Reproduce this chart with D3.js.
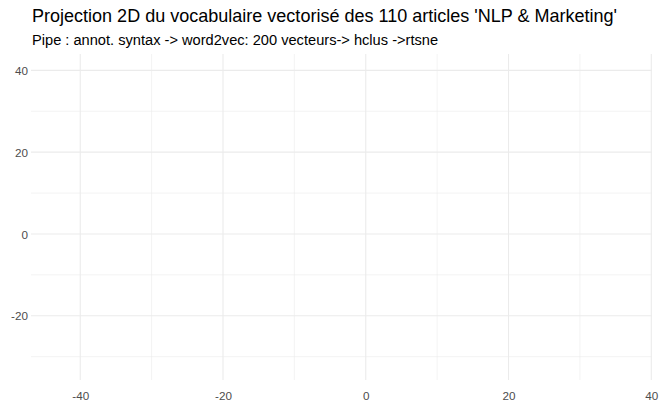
<!DOCTYPE html>
<html><head><meta charset="utf-8">
<script src="https://cdn.jsdelivr.net/npm/d3@7"></script>
<style>body{margin:0;background:#fff}svg{display:block;font-family:"Liberation Sans",Arial,sans-serif}</style>
</head><body><svg id="c" width="659" height="407"></svg>
<script>
const title = "Projection 2D du vocabulaire vectorisé des 110 articles 'NLP & Marketing'";
const subtitle = "Pipe : annot. syntax -> word2vec: 200 vecteurs-> hclus ->rtsne";
const xDomain = [-46.9, 40.1];
const yDomain = [-35.7, 44.0];
const xMajor = [-40, -20, 0, 20, 40];
const xMinor = [-30, -10, 10, 30];
const yMajor = [-20, 0, 20, 40];
const yMinor = [-30, -10, 10, 30];
const points = [];

const svg = d3.select("#c");
const m = {l:31, r:652, t:54, b:380};
const x = d3.scaleLinear().domain(xDomain).range([m.l, m.r]);
const y = d3.scaleLinear().domain(yDomain).range([m.b, m.t]);
const grid = svg.append("g");
grid.selectAll(".xm").data(xMinor).join("line").attr("x1",d=>x(d)).attr("x2",d=>x(d)).attr("y1",m.t).attr("y2",m.b).attr("stroke","#ebebeb").attr("stroke-width",0.6);
grid.selectAll(".ym").data(yMinor).join("line").attr("y1",d=>y(d)).attr("y2",d=>y(d)).attr("x1",m.l).attr("x2",m.r).attr("stroke","#ebebeb").attr("stroke-width",0.6);
grid.selectAll(".xM").data(xMajor).join("line").attr("x1",d=>x(d)).attr("x2",d=>x(d)).attr("y1",m.t).attr("y2",m.b).attr("stroke","#ebebeb").attr("stroke-width",1.1);
grid.selectAll(".yM").data(yMajor).join("line").attr("y1",d=>y(d)).attr("y2",d=>y(d)).attr("x1",m.l).attr("x2",m.r).attr("stroke","#ebebeb").attr("stroke-width",1.1);
svg.selectAll(".pt").data(points).join("circle").attr("cx",d=>x(d.x)).attr("cy",d=>y(d.y)).attr("r",2);

const fmt = d => String(d);
const xa = svg.append("g").attr("transform",`translate(0,${m.b})`).call(d3.axisBottom(x).tickValues(xMajor).tickFormat(fmt).tickSize(0).tickPadding(12));
const ya = svg.append("g").attr("transform",`translate(${m.l},0)`).call(d3.axisLeft(y).tickValues(yMajor).tickFormat(fmt).tickSize(0).tickPadding(3));
[xa,ya].forEach(a=>{a.select(".domain").remove();a.selectAll("text").attr("fill","#4d4d4d").attr("font-size","11.7px").attr("font-family","Liberation Sans, Arial, sans-serif");});
ya.selectAll("text").attr("dy","0.35em");

function fit(sel, target, size){
  sel.attr("font-size", size+"px");
  const w = sel.node().getComputedTextLength();
  sel.attr("font-size", (size*target/w).toFixed(2)+"px");
}
const t = svg.append("text").attr("x",32).attr("y",22).attr("fill","#000").text(title);
fit(t, 585, 17.6);
const s = svg.append("text").attr("x",32).attr("y",45).attr("fill","#000").text(subtitle);
fit(s, 406, 14.1);
</script></body></html>
